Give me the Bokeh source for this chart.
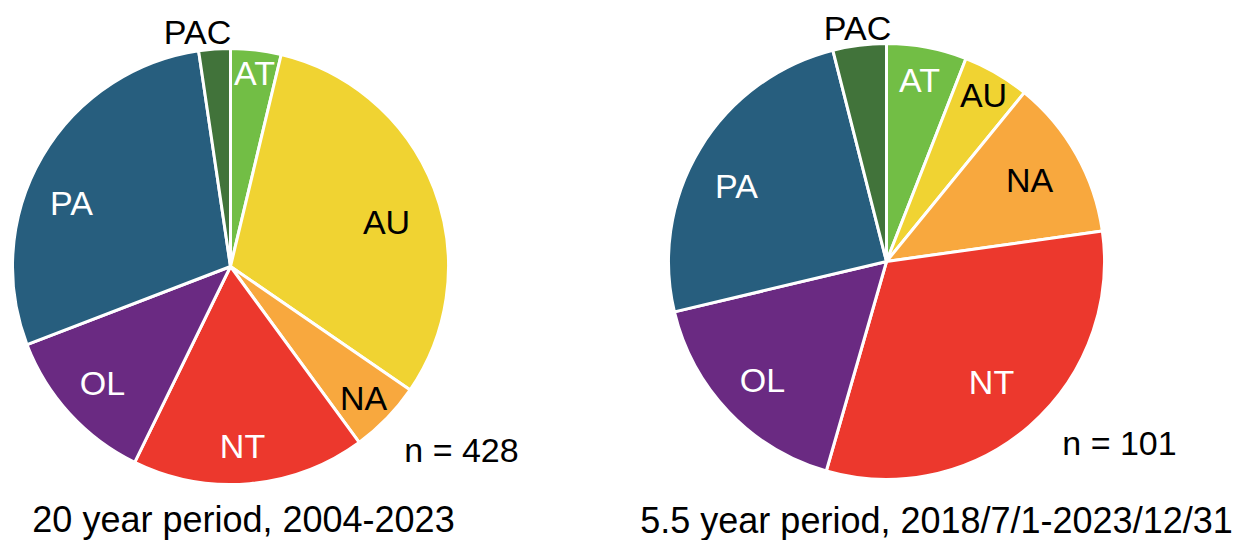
import math
from bokeh.plotting import figure
from bokeh.models import Range1d, ColumnDataSource
from bokeh.core.properties import value
from bokeh.embed import file_html
from bokeh.resources import INLINE

# ---- data ----
regions = ["AT", "AU", "NA", "NT", "OL", "PA", "PAC"]
counts_20yr = [16, 132, 23, 74, 51, 122, 10]      # n = 428
counts_5yr = [6, 5, 12, 32, 17, 25, 4]            # n = 101
captions = ["20 year period, 2004-2023", "5.5 year period, 2018/7/1-2023/12/31"]

# ---- styles ----
colors = ["#72BE45", "#F0D332", "#F8A83E", "#EC382D", "#6A2A82", "#275E7E", "#41733A"]
label_colors = ["white", "black", "black", "white", "white", "white", "black"]
FONT = value("Liberation Sans")

W, H = 1235, 540


def px(x):  # page x -> data x
    return x


def py(y):  # page y -> data y (y up)
    return H - y


# layout (page pixel coordinates)
pies = [
    dict(counts=counts_20yr, cx=230, cy=266, r=218,
         labels=[(254, 72), (386, 221), (363, 397), (242, 445), (102, 382), (71, 202), (197, 31)],
         n_pos=(461, 449), cap_pos=(243, 519)),
    dict(counts=counts_5yr, cx=886, cy=261, r=218,
         labels=[(919, 79), (983, 94), (1029, 179), (991, 381), (762, 379), (736, 185), (857, 27)],
         n_pos=(1119, 442), cap_pos=(936, 520)),
]

p = figure(width=W, height=H, output_backend="svg", toolbar_location=None,
           x_range=Range1d(0, W), y_range=Range1d(0, H),
           x_axis_location=None, y_axis_location=None, min_border=0)
p.grid.visible = False
p.outline_line_color = None
p.background_fill_color = "white"
p.border_fill_color = "white"

for pie in pies:
    counts = pie["counts"]
    total = sum(counts)
    starts, ends = [], []
    cum = 0
    for c in counts:
        a0 = math.pi / 2 - 2 * math.pi * cum / total
        cum += c
        a1 = math.pi / 2 - 2 * math.pi * cum / total
        starts.append(a1)
        ends.append(a0)
    src = ColumnDataSource(dict(start=starts, end=ends, color=colors, region=regions))
    p.wedge(x=px(pie["cx"]), y=py(pie["cy"]), radius=pie["r"],
            start_angle="start", end_angle="end", direction="anticlock",
            fill_color="color", line_color="white", line_width=3, source=src)

    lsrc = ColumnDataSource(dict(
        x=[px(a) for a, b in pie["labels"]],
        y=[py(b) for a, b in pie["labels"]],
        text=regions, color=label_colors))
    p.text(x="x", y="y", text="text", text_color="color", source=lsrc,
           text_font=FONT, text_font_size="34px",
           text_align="center", text_baseline="middle")

    p.text(x=[px(pie["n_pos"][0])], y=[py(pie["n_pos"][1])], text=[f"n = {total}"],
           text_color="black", text_font=FONT, text_font_size="34px",
           text_align="center", text_baseline="middle")

for pie, cap in zip(pies, captions):
    p.text(x=[px(pie["cap_pos"][0])], y=[py(pie["cap_pos"][1])], text=[cap],
           text_color="black", text_font=FONT, text_font_size="36px",
           text_align="center", text_baseline="middle")

open("out.html", "w").write(file_html(p, INLINE))
